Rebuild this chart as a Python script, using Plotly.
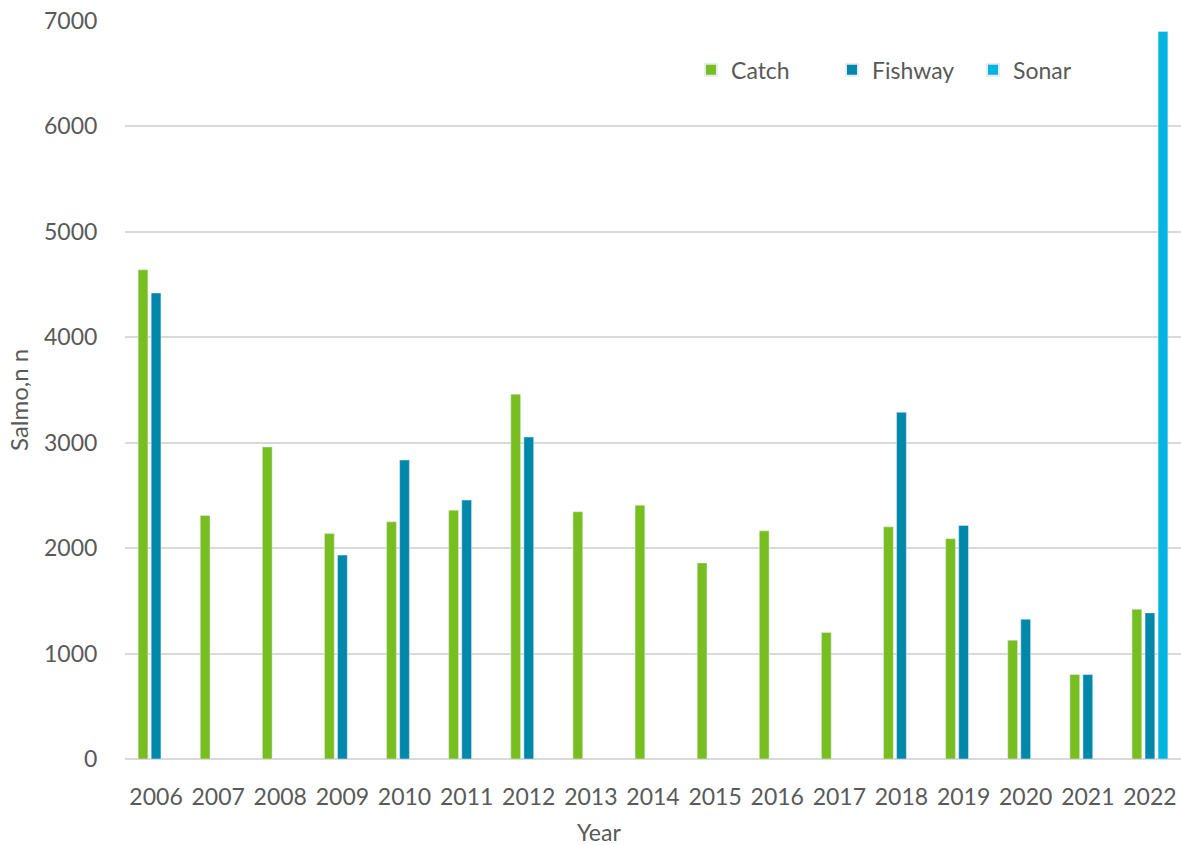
import plotly.graph_objects as go

years = ["2006", "2007", "2008", "2009", "2010", "2011", "2012", "2013", "2014",
         "2015", "2016", "2017", "2018", "2019", "2020", "2021", "2022"]
catch = [4640, 2310, 2960, 2140, 2250, 2360, 3460, 2345, 2408,
         1860, 2164, 1200, 2202, 2090, 1127, 801, 1421]
fishway = [4420, None, None, 1934, 2836, 2456, 3054, None, None,
           None, None, None, 3288, 2215, 1326, 801, 1386]
sonar = [None] * 16 + [6900]

y_ticks = [0, 1000, 2000, 3000, 4000, 5000, 6000, 7000]

font_family = "Lato, 'Open Sans', sans-serif"
text_color = "#595959"

fig = go.Figure()
fig.add_trace(go.Bar(name="Catch", x=years, y=catch, marker_color="#78BE20"))
fig.add_trace(go.Bar(name="Fishway", x=years, y=fishway, marker_color="#0088AB"))
fig.add_trace(go.Bar(name="Sonar", x=years, y=sonar, marker_color="#00B5E2"))

fig.update_layout(
    width=1181, height=845,
    margin=dict(l=125, r=0, t=21, b=86, pad=0),
    paper_bgcolor="white", plot_bgcolor="white",
    barmode="group", bargap=0.37, bargroupgap=0.25,
    font=dict(family=font_family, color=text_color, size=20),
    showlegend=True,
    legend=dict(orientation="h", x=0.536, y=0.934, xanchor="left", yanchor="middle",
                font=dict(size=23, color=text_color), bgcolor="rgba(0,0,0,0)",
                entrywidth=96, entrywidthmode="pixels",
                itemsizing="constant", traceorder="normal"),
    annotations=[
        dict(text="Year", xref="paper", yref="paper", x=0.449, y=-0.0995,
             xanchor="center", yanchor="middle", showarrow=False,
             font=dict(size=23, color=text_color)),
        dict(text="Salmo,n n", xref="paper", yref="paper", x=-0.1004, y=0.4865,
             xanchor="center", yanchor="middle", showarrow=False, textangle=-90,
             font=dict(size=24, color=text_color)),
    ],
)
fig.update_xaxes(
    type="category", showgrid=False, showline=False, zeroline=False,
    ticks="outside", ticklen=17, tickcolor="rgba(0,0,0,0)",
    tickfont=dict(size=23, color=text_color),
)
fig.update_yaxes(
    range=[0, 7000], tickvals=y_ticks, ticktext=[str(v) for v in y_ticks],
    showgrid=True, gridcolor="#D9D9D9", gridwidth=1.5,
    zeroline=True, zerolinecolor="#D9D9D9", zerolinewidth=1.5,
    showline=False, ticks="outside", ticklen=22, tickcolor="rgba(0,0,0,0)",
    tickfont=dict(size=23, color=text_color), ticklabeloverflow="allow",
)

fig.write_html(
    "out.html",
    config={"displayModeBar": False},
    post_script="document.body.style.margin='0';document.body.style.overflow='hidden';",
)
